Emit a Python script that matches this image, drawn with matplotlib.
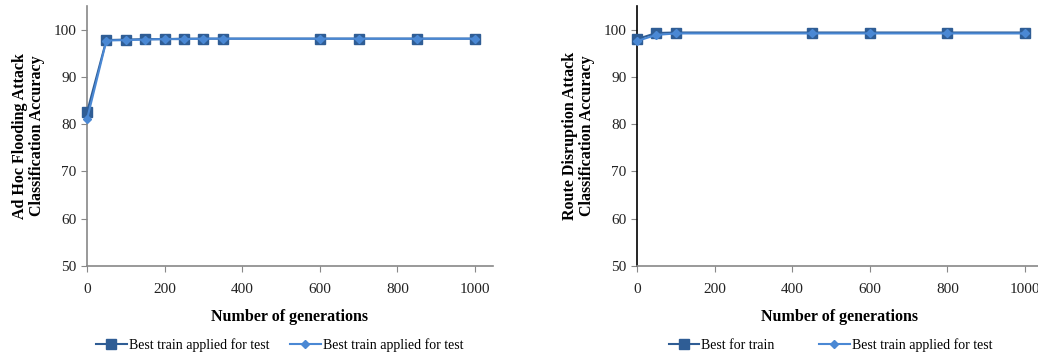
import matplotlib.pyplot as plt

plt.rcParams['font.family'] = ['Liberation Serif', 'DejaVu Serif']

# left chart: ad hoc flooding
gen_a = [0, 50, 100, 150, 200, 250, 300, 350, 600, 700, 850, 1000]
train_a = [82.5, 97.8, 97.9, 98.0, 98.0, 98.1, 98.1, 98.1, 98.1, 98.1, 98.1, 98.1]
test_a = [81.0, 97.7, 97.8, 97.9, 98.0, 98.0, 98.1, 98.1, 98.1, 98.1, 98.1, 98.1]
labels_a = ['Best train applied for test', 'Best train applied for test']
ylab_a = 'Ad Hoc Flooding Attack\nClassification Accuracy'

# right chart: route disruption
gen_b = [0, 50, 100, 450, 600, 800, 1000]
train_b = [98.0, 99.3, 99.4, 99.4, 99.4, 99.4, 99.4]
test_b = [97.6, 98.9, 99.2, 99.2, 99.2, 99.2, 99.2]
labels_b = ['Best for train', 'Best train applied for test']
ylab_b = 'Route Disruption Attack\nClassification Accuracy'

dark = '#2f5d95'
light = '#4a88d4'

fig = plt.figure(figsize=(10.38, 3.56), dpi=100)


def rysuj(pos, x, s1, s2, etykiety, ylab, left_col, leg_x, odstep):
    ax = fig.add_axes(pos)
    l1, = ax.plot(x, s1, color=dark, lw=1.5, marker='s', ms=6.5,
                  label=etykiety[0], clip_on=False, zorder=3)
    l2, = ax.plot(x, s2, color=light, lw=1.5, marker='D', ms=4.5,
                  label=etykiety[1], clip_on=False, zorder=4)
    ax.set_xlim(0, 1046)
    ax.set_ylim(50, 105)
    ax.set_xticks([0, 200, 400, 600, 800, 1000])
    ax.set_yticks([50, 60, 70, 80, 90, 100])
    for s in ['top', 'right']:
        ax.spines[s].set_visible(False)
    ax.spines['bottom'].set_color('#888888')
    ax.spines['left'].set_color(left_col)
    ax.spines['bottom'].set_linewidth(1.2)
    ax.spines['left'].set_linewidth(1.2)
    ax.tick_params(axis='both', colors='#888888', labelcolor='#222222',
                   labelsize=11, length=4, direction='out')
    ax.tick_params(axis='x', pad=8)
    ax.set_xlabel('Number of generations', fontsize=11.5, fontweight='bold', labelpad=10)
    ax.set_ylabel(ylab, fontsize=11.5, fontweight='bold', labelpad=6, linespacing=1.1)
    ax.legend(handles=[l1, l2], loc='center', bbox_to_anchor=(leg_x, 0.03),
              bbox_transform=fig.transFigure, ncol=2, frameon=False,
              fontsize=10, columnspacing=odstep, handlelength=2.2, handletextpad=0.15)
    return ax


rysuj([0.0838, 0.253, 0.391, 0.730], gen_a, train_a, test_a, labels_a, ylab_a, '#888888', 0.2695, 1.5)
rysuj([0.6137, 0.253, 0.391, 0.730], gen_b, train_b, test_b, labels_b, ylab_b, 'black', 0.800, 3.2)

plt.savefig('out.png', dpi=100)
